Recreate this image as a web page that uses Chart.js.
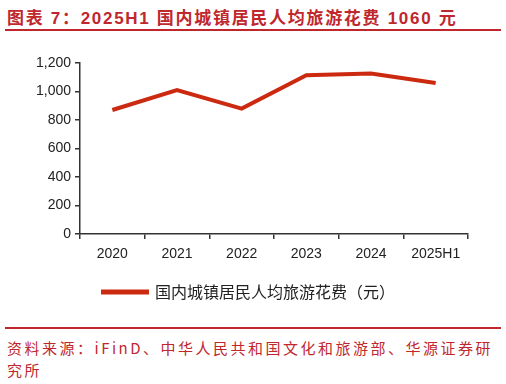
<!DOCTYPE html>
<html>
<head>
<meta charset="utf-8">
<script src="https://cdn.jsdelivr.net/npm/chart.js@4.4.0/dist/chart.umd.min.js"></script>
<style>
  html, body { margin: 0; padding: 0; background: #fff; }
  body { width: 506px; height: 384px; position: relative; overflow: hidden; }
  #title {
    position: absolute; left: 7px; top: 4px;
    font-family: "Liberation Sans", "Noto Sans CJK SC", sans-serif; font-weight: bold;
    font-size: 17px; letter-spacing: 1.7px; color: #c0272d; white-space: nowrap;
  }
  #titleLine { position: absolute; left: 5px; top: 29px; width: 496px; height: 2px; background: #c0272d; }
  #chartBox { position: absolute; left: 0; top: 40px; width: 506px; height: 270px; }
  #srcLine { position: absolute; left: 5px; top: 327px; width: 496px; height: 2px; background: #c0272d; }
  #source {
    position: absolute; left: 7px; top: 337px; width: 499px;
    font-family: "Noto Sans CJK SC", sans-serif; font-size: 15px; line-height: 22px;
    letter-spacing: 2.5px; color: #c0272d;
  }
</style>
</head>
<body>
<div id="title">图表 7：2025H1 国内城镇居民人均旅游花费 1060 元</div>
<div id="titleLine"></div>
<div id="chartBox"><canvas id="spendChart"></canvas></div>
<div id="srcLine"></div>
<div id="source">资料来源：iFinD、中华人民共和国文化和旅游部、华源证券研究所</div>

<script>
// 数据
const years = ['2020', '2021', '2022', '2023', '2024', '2025H1'];
const spending = [870, 1010, 880, 1114, 1126, 1060];
const seriesName = '国内城镇居民人均旅游花费（元）';
const yTicks = [0, 200, 400, 600, 800, 1000, 1200];

document.addEventListener('DOMContentLoaded', function() {
    const ctx = document.getElementById('spendChart').getContext('2d');
    const lineRed = '#cc2a10';

    new Chart(ctx, {
        type: 'line',
        data: {
            labels: years,
            datasets: [{
                label: seriesName,
                data: spending,
                borderColor: lineRed,
                backgroundColor: lineRed,
                borderWidth: 4,
                pointRadius: 0,
                tension: 0
            }]
        },
        options: {
            responsive: true,
            maintainAspectRatio: false,
            animation: false,
            // 左侧留白决定图例居中位置，y 轴宽度补足到 80px
            layout: { padding: { left: 30, right: 38, top: 23, bottom: 0 } },
            plugins: {
                legend: {
                    position: 'bottom',
                    labels: {
                        boxWidth: 44,
                        boxHeight: 1,
                        padding: 10,
                        color: '#222',
                        font: { family: '"Noto Sans CJK SC", sans-serif', size: 16 }
                    }
                },
                tooltip: { enabled: false }
            },
            scales: {
                y: {
                    min: 0,
                    max: 1200,
                    afterBuildTicks: function(scale) {
                        scale.ticks = yTicks.map(v => ({ value: v }));
                    },
                    afterFit: function(scale) { scale.width = 50; },
                    border: { color: '#333', width: 1.5 },
                    grid: { display: true, drawOnChartArea: false, drawTicks: true, tickLength: 5, color: '#333', lineWidth: 1.5 },
                    ticks: {
                        padding: 4,
                        color: '#222',
                        font: { family: '"Liberation Sans", Arial, sans-serif', size: 14 },
                        callback: function(v) { return v.toLocaleString('en-US'); }
                    }
                },
                x: {
                    offset: true,
                    afterFit: function(scale) { scale.height = 40; },
                    border: { color: '#333', width: 1.5 },
                    grid: { display: true, offset: true, drawOnChartArea: false, drawTicks: true, tickLength: 5, color: '#333', lineWidth: 1.5 },
                    ticks: {
                        padding: 7,
                        color: '#222',
                        maxRotation: 0,
                        font: { family: '"Liberation Sans", Arial, sans-serif', size: 14 }
                    }
                }
            }
        }
    });
});
</script>
</body>
</html>
